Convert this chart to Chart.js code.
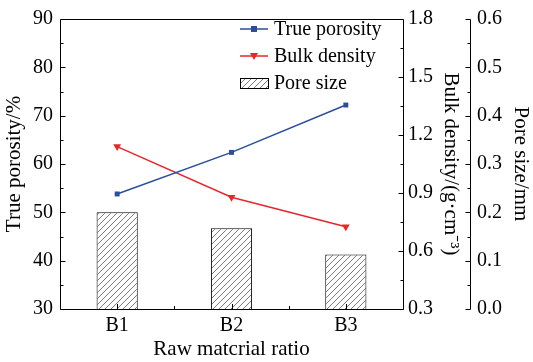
<!DOCTYPE html>
<html>
<head>
<meta charset="utf-8">
<script src="https://cdn.jsdelivr.net/npm/chart.js@4.4.1/dist/chart.umd.min.js"></script>
<style>
  html, body { margin: 0; padding: 0; background: #fff; }
  #wrap { width: 533px; height: 362px; }
</style>
</head>
<body>
<div id="wrap"><canvas id="myChart"></canvas></div>
<script>
// data
const categories = ["B1", "B2", "B3"];
const truePorosity = [53.8, 62.4, 72.2];
const bulkDensity = [1.14, 0.878, 0.725];
const poreSize = [0.2, 0.167, 0.113];
const porosityTicks = [30, 40, 50, 60, 70, 80, 90];
const densityTicks = [0.3, 0.6, 0.9, 1.2, 1.5, 1.8];
const poreTicks = [0, 0.1, 0.2, 0.3, 0.4, 0.5, 0.6];

const BLUE = "#2a4e9c";
const RED = "#e8262b";
const FONT = "'Liberation Serif', 'Times New Roman', serif";

function makeHatch() {
  const c = document.createElement("canvas");
  c.width = 6; c.height = 6;
  const g = c.getContext("2d");
  g.fillStyle = "#fff";
  g.fillRect(0, 0, 6, 6);
  g.strokeStyle = "#444";
  g.lineWidth = 0.7;
  g.beginPath();
  g.moveTo(0, 6); g.lineTo(6, 0);
  g.moveTo(-1, 1); g.lineTo(1, -1);
  g.moveTo(5, 7); g.lineTo(7, 5);
  g.stroke();
  return g.createPattern(c, "repeat");
}
const hatch = makeHatch();

function setTicks(list) {
  return function (scale) {
    scale.ticks = list.map(function (v) { return { value: v }; });
  };
}

// frame, inward ticks and the third axis line
const axisTicks = {
  id: "axisTicks",
  afterDraw(chart) {
    const ctx = chart.ctx;
    const a = chart.chartArea;
    const s = chart.scales;
    ctx.save();
    ctx.strokeStyle = "#000";
    ctx.lineWidth = 1;
    ctx.beginPath();
    ctx.rect(a.left + 0.5, a.top + 0.5, a.right - a.left, a.bottom - a.top);
    const x2 = s.y2.left + 0.5;
    ctx.moveTo(x2, a.top + 0.5);
    ctx.lineTo(x2, a.bottom + 0.5);

    function yTicks(scale, x, dir, vals) {
      for (let i = 0; i < vals.length; i++) {
        let y = Math.round(scale.getPixelForValue(vals[i])) + 0.5;
        ctx.moveTo(x, y); ctx.lineTo(x + dir * 5, y);
        if (i < vals.length - 1) {
          y = Math.round(scale.getPixelForValue((vals[i] + vals[i + 1]) / 2)) + 0.5;
          ctx.moveTo(x, y); ctx.lineTo(x + dir * 3, y);
        }
      }
    }
    yTicks(s.y, a.left + 0.5, 1, porosityTicks);
    yTicks(s.y1, a.right + 0.5, -1, densityTicks);
    yTicks(s.y2, x2, -1, poreTicks);

    for (let i = 0; i < categories.length; i++) {
      let x = Math.round(s.x.getPixelForValue(i)) + 0.5;
      ctx.moveTo(x, a.bottom + 0.5); ctx.lineTo(x, a.bottom - 5);
      if (i < categories.length - 1) {
        x = Math.round(s.x.getPixelForValue(i + 0.5)) + 0.5;
        ctx.moveTo(x, a.bottom + 0.5); ctx.lineTo(x, a.bottom - 3);
      }
    }
    ctx.stroke();
    ctx.restore();
  }
};

// legend inside the plot, line + marker like the original
const innerLegend = {
  id: "innerLegend",
  afterDraw(chart) {
    const ctx = chart.ctx;
    const x0 = 240, x1 = 268, tx = 274;
    const rows = [29, 56, 83];
    ctx.save();
    ctx.font = "20px " + FONT;
    ctx.textBaseline = "middle";
    ctx.fillStyle = "#000";
    chart.data.datasets.forEach(function (ds, i) {
      const y = rows[i];
      if (ds.type === "line") {
        ctx.strokeStyle = ds.borderColor;
        ctx.lineWidth = 1.5;
        ctx.beginPath();
        ctx.moveTo(x0, y); ctx.lineTo(x1, y);
        ctx.stroke();
        ctx.fillStyle = ds.borderColor;
        const cx = (x0 + x1) / 2;
        if (ds.pointStyle === "rect") {
          ctx.fillRect(cx - 3, y - 3, 6, 6);
        } else {
          ctx.beginPath();
          ctx.moveTo(cx - 4, y - 3);
          ctx.lineTo(cx + 4, y - 3);
          ctx.lineTo(cx, y + 4);
          ctx.closePath();
          ctx.fill();
        }
      } else {
        ctx.fillStyle = hatch;
        ctx.fillRect(x0, y - 5, x1 - x0, 10);
        ctx.strokeStyle = "#000";
        ctx.lineWidth = 1;
        ctx.strokeRect(x0 + 0.5, y - 4.5, x1 - x0, 10);
      }
      ctx.fillStyle = "#000";
      ctx.fillText(ds.label, tx, y + 1);
    });
    ctx.restore();
  }
};

const ctx = document.getElementById("myChart");

const myChart = new Chart(ctx, {
  data: {
    labels: categories,
    datasets: [
      {
        type: "line",
        label: "True porosity",
        data: truePorosity,
        yAxisID: "y",
        borderColor: BLUE,
        backgroundColor: BLUE,
        borderWidth: 1.5,
        pointStyle: "rect",
        pointRadius: 3.5,
        pointBorderWidth: 0,
      },
      {
        type: "line",
        label: "Bulk density",
        data: bulkDensity,
        yAxisID: "y1",
        borderColor: RED,
        backgroundColor: RED,
        borderWidth: 1.5,
        pointStyle: "triangle",
        pointRotation: 180,
        pointRadius: 4.5,
        pointBorderWidth: 0,
      },
      {
        type: "bar",
        label: "Pore size",
        data: poreSize,
        yAxisID: "y2",
        backgroundColor: hatch,
        borderColor: "#000",
        borderWidth: 1,
        categoryPercentage: 1,
        barPercentage: 0.36,
      },
    ],
  },
  options: {
    responsive: true,
    maintainAspectRatio: false,
    animation: false,
    layout: { padding: { top: 13, left: 0, right: 0, bottom: 0 } },
    plugins: {
      legend: { display: false },
      tooltip: { enabled: false },
    },
    scales: {
      x: {
        type: "category",
        offset: true,
        grid: { display: false, drawTicks: false },
        border: { display: false },
        ticks: { color: "#000", font: { family: FONT, size: 20 }, padding: 5, maxRotation: 0 },
        title: { display: true, text: "Raw matcrial ratio", color: "#000", font: { family: FONT, size: 21 }, padding: { top: 0, bottom: 0 } },
        afterFit: function (scale) { scale.height = 53; },
      },
      y: {
        position: "left",
        min: 30,
        max: 90,
        afterBuildTicks: setTicks(porosityTicks),
        grid: { display: false, drawTicks: false },
        border: { display: false },
        ticks: { color: "#000", font: { family: FONT, size: 20 }, padding: 7 },
        title: { display: true, text: "True porosity/%", color: "#000", font: { family: FONT, size: 21 }, padding: { top: 2, bottom: 0 } },
        afterFit: function (scale) { scale.width = 60; },
      },
      y1: {
        position: "right",
        min: 0.3,
        max: 1.8,
        afterBuildTicks: setTicks(densityTicks),
        grid: { display: false, drawTicks: false },
        border: { display: false },
        ticks: { color: "#000", font: { family: FONT, size: 20 }, padding: 5, callback: function (v) { return Number(v).toFixed(1); } },
        title: { display: true, text: "Bulk density/(g·cm⁻³)", color: "#000", font: { family: FONT, size: 21 }, padding: { top: 7, bottom: 0 } },
        afterFit: function (scale) { scale.width = 67; },
      },
      y2: {
        position: "right",
        min: 0,
        max: 0.6,
        afterBuildTicks: setTicks(poreTicks),
        grid: { display: false, drawTicks: false },
        border: { display: false },
        ticks: { color: "#000", font: { family: FONT, size: 20 }, padding: 7, callback: function (v) { return Number(v).toFixed(1); } },
        title: { display: true, text: "Pore size/mm", color: "#000", font: { family: FONT, size: 21 }, padding: { top: 0, bottom: 0 } },
        afterFit: function (scale) { scale.width = 63; },
      },
    },
  },
  plugins: [axisTicks, innerLegend],
});
</script>
</body>
</html>
